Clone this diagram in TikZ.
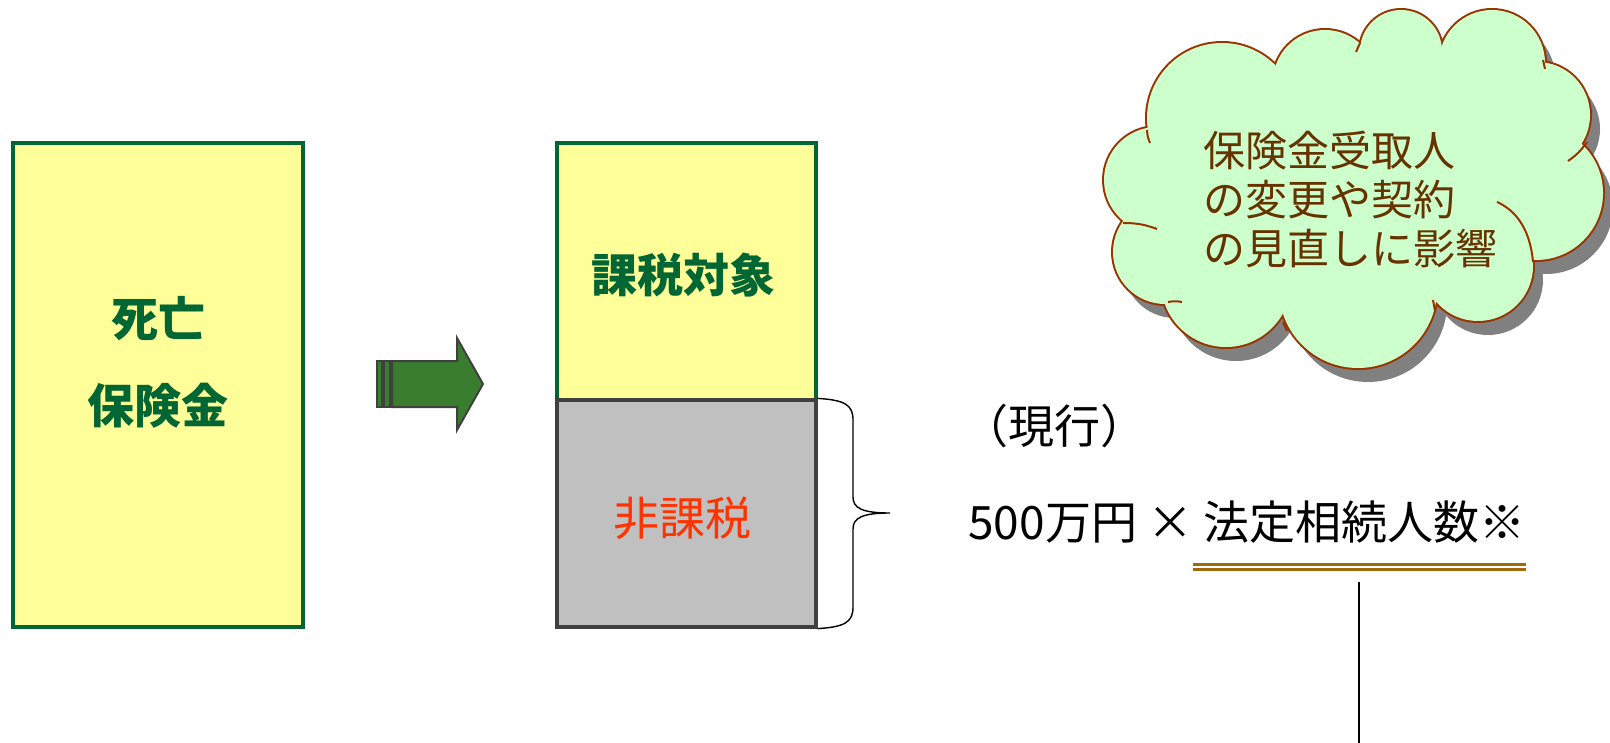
\documentclass[tikz,border=0pt]{standalone}
\usepackage{fontspec}
\setmainfont{Noto Sans CJK JP}
\definecolor{dgreen}{HTML}{006633}
\definecolor{lyellow}{HTML}{FFFF99}
\definecolor{boxgray}{HTML}{C0C0C0}
\definecolor{edgegray}{HTML}{404040}
\definecolor{redtxt}{HTML}{FF3300}
\definecolor{arrowgreen}{HTML}{3A7D2E}
\definecolor{cloudfill}{HTML}{CCFFCC}
\definecolor{cloudedge}{HTML}{993300}
\definecolor{cloudtxt}{HTML}{663300}
\definecolor{ulcolor}{HTML}{A06A0A}
\definecolor{shadowgray}{HTML}{808080}
\newcommand\pufflist{1222/118/75, 1325/82/52, 1401/51/41, 1492/63/53, 1537/115/53, 1536/193/67, 1478/266/55, 1358/289/79, 1226/282/65, 1165/252/52, 1157/180/53}
\newcommand\puffcore{(1222,118) -- (1325,82) -- (1401,51) -- (1492,63) -- (1537,115) -- (1536,193) -- (1478,266) -- (1358,289) -- (1226,282) -- (1165,252) -- (1157,180) -- cycle}
\tikzset{
  ybox/.style={draw=dgreen, fill=lyellow, line width=1.6pt, inner sep=0pt},
  gbox/.style={draw=edgegray, fill=boxgray, line width=1.6pt, inner sep=0pt},
  boldlbl/.style={font=\fontsize{23.5pt}{43.5pt}\selectfont\bfseries, text=dgreen, align=center},
  arrowpart/.style={fill=arrowgreen, draw=edgegray, line width=1pt, line join=miter},
  cloudline/.style={draw=cloudedge, line width=1pt},
  maintext/.style={font=\fontsize{23pt}{28pt}\selectfont, text=black, anchor=west, inner sep=0pt},
  ulline/.style={draw=ulcolor, line width=1.5pt},
}
\begin{document}
\begin{tikzpicture}[x=0.5pt, y=-0.5pt]
\useasboundingbox (0,0) rectangle (1610,743);

% left box
\node[ybox, minimum width=145pt, minimum height=242pt] (death) at (158,385) {};
\node[boldlbl] (deathlbl) at (158,362) {死亡\\保険金};

% arrow
\filldraw[arrowpart] (377,361) rectangle (382,407);
\filldraw[arrowpart] (384,361) rectangle (390,407);
\filldraw[arrowpart] (392,361) -- (457,361) -- (457,338) -- (483,384) -- (457,430) -- (457,407) -- (392,407) -- cycle;

% middle boxes
\node[ybox, minimum width=129.5pt, minimum height=128.5pt] (taxable) at (686.5,271.5) {};
\node[gbox, minimum width=129.5pt, minimum height=113.5pt] (nontax) at (686.5,513.5) {};
\node[font=\fontsize{23pt}{28pt}\selectfont\bfseries, text=dgreen] (taxlbl) at (683,275) {課税対象};
\node[font=\fontsize{23pt}{28pt}\selectfont, text=redtxt] (nontaxlbl) at (682,518) {非課税};

% brace
\coordinate (btip) at (890,513);
\draw[line width=0.7pt] (nontax.north east) .. controls (845,400) and (853,405) .. (853,420) -- (853,497) .. controls (853,508) and (862,513) .. (btip) .. controls (862,513) and (853,518) .. (853,529) -- (853,607) .. controls (853,622) and (845,627) .. (nontax.south east);

% right texts
\node[maintext] (current) at (962,426) {（現行）};
\node[maintext] (formula) at (968,522) {500万円 × 法定相続人数※};
\coordinate (ulA) at (1193,564);
\coordinate (ulB) at (1526,564);
\coordinate (ulC) at (1193,569.5);
\coordinate (ulD) at (1526,569.5);
\draw[ulline] (ulA) -- (ulB);
\draw[ulline] (ulC) -- (ulD);
\coordinate (vtop) at (1359,582);
\coordinate (vbot) at (1359,743);
\draw[line width=1pt] (vtop) -- (vbot);

% cloud: shadow
\begin{scope}[transform canvas={shift={(5pt,-7pt)}}]
  \foreach \cx/\cy/\r in \pufflist { \fill[shadowgray] (\cx,\cy) circle[radius=\r]; }
  \fill[shadowgray] \puffcore;
\end{scope}
% cloud: outlined puffs, then interiors covered
\foreach \cx/\cy/\r in \pufflist { \filldraw[fill=cloudfill, draw=cloudedge, line width=2pt] (\cx,\cy) circle[radius=\r]; }
\foreach \cx/\cy/\r in \pufflist { \fill[cloudfill] (\cx,\cy) circle[radius=\r]; }
\fill[cloudfill] \puffcore;
% inner arcs at the puff joints
\draw[cloudline] (1147,130) to[bend right=10] (1150,143);
\draw[cloudline] (1360,43) -- (1356,52);
\draw[cloudline] (1543,60) -- (1545,69);
\draw[cloudline] (1587,142) to[bend left=10] (1568,161);
\draw[cloudline] (1533,262) .. controls (1530,228) and (1515,210) .. (1497,202);
\draw[cloudline] (1433,300) -- (1435,311);
\draw[cloudline] (1283,322) -- (1287,331);
\draw[cloudline] (1168,302) to[bend left=10] (1182,302);
\draw[cloudline] (1123,223) to[bend left=10] (1157,229);
\node[font=\fontsize{21pt}{24.5pt}\selectfont, text=cloudtxt, align=left, anchor=west] (cloudlbl) at (1196,199) {保険金受取人\\の変更や契約\\の見直しに影響};
\end{tikzpicture}
\end{document}
